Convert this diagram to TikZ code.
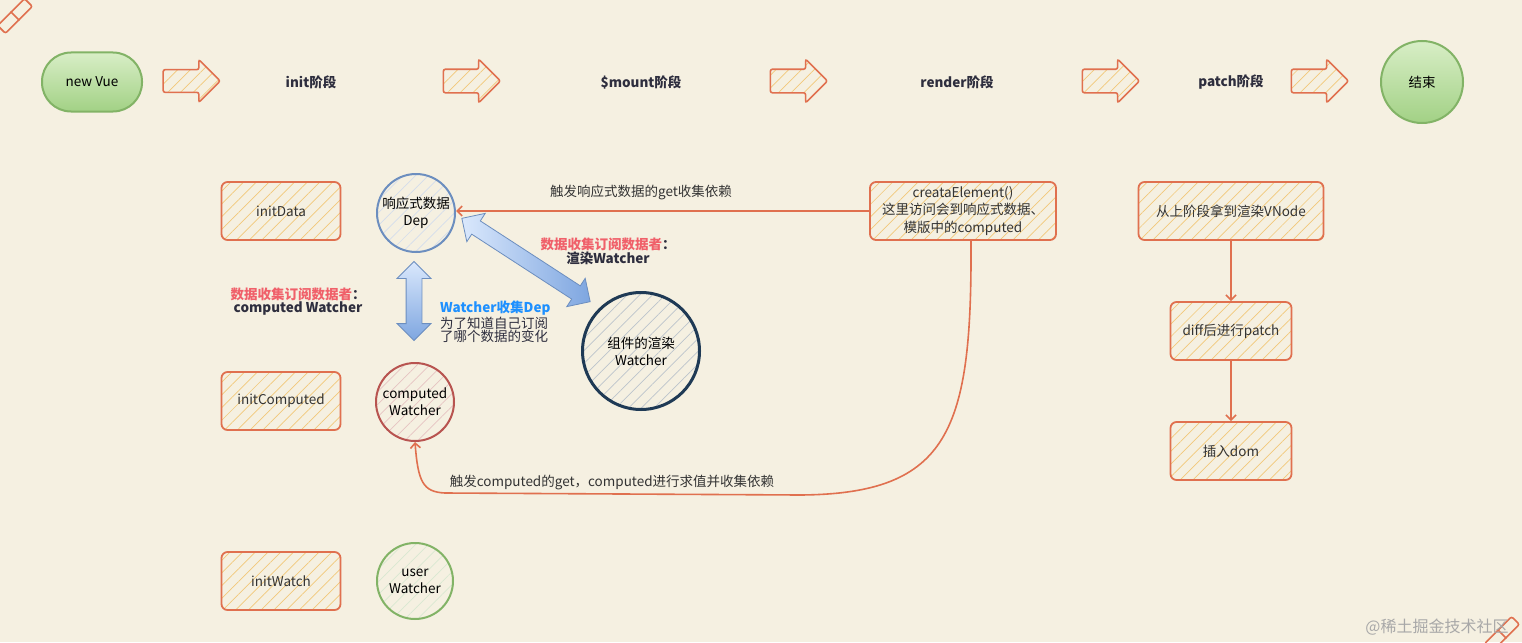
\documentclass[tikz,border=0pt]{standalone}
\usepackage{fontspec}
\setmainfont{Noto Sans CJK SC}
\usetikzlibrary{arrows.meta,shapes.arrows,patterns.meta,shadings}
\definecolor{bg}{HTML}{F5F0E1}
\definecolor{boxc}{HTML}{E0704F}
\definecolor{hatchY}{HTML}{F2C879}
\definecolor{txt}{HTML}{333333}
\definecolor{stagetxt}{HTML}{2E2E3E}
\definecolor{greenB}{HTML}{82B366}
\definecolor{greenT}{HTML}{D8EEC6}
\definecolor{greenD}{HTML}{A2D185}
\definecolor{blueB}{HTML}{6C8EBF}
\definecolor{navyB}{HTML}{1F3A55}
\definecolor{redB}{HTML}{B85450}
\definecolor{redL}{HTML}{F0606A}
\definecolor{blueL}{HTML}{1E90FF}
\definecolor{arrowLight}{HTML}{DAE8FC}
\definecolor{arrowDark}{HTML}{7EA6E0}
\definecolor{wm}{HTML}{A8A8A8}
\tikzset{
  tnode/.style={font=\fontsize{13.5}{17}\selectfont, text=txt, align=center},
  hatch/.style={pattern={Lines[angle=45,distance=9pt,line width=0.7pt]}},
  stagebox/.style={tnode, draw=boxc, line width=1.8pt, rounded corners=6pt,
    minimum width=119pt, minimum height=58pt, inner sep=2pt,
    preaction={fill=bg}, hatch, pattern color=hatchY},
  stagearrow/.style={single arrow, draw=boxc, line width=1.6pt,
    minimum height=57pt, inner xsep=0pt, inner ysep=11pt, single arrow head extend=10pt,
    rounded corners=2pt, preaction={fill=bg}, hatch, pattern color=hatchY},
  stagelabel/.style={font=\bfseries\fontsize{13.5}{17}\selectfont, text=stagetxt},
  greenterm/.style={tnode, text=black, draw=greenB, line width=2pt,
    top color=greenT, bottom color=greenD},
  watcher/.style={tnode, text=black, circle, line width=2pt, inner sep=0pt},
  dblarrow/.style={double arrow, draw=blueB, line width=0.8pt,
    minimum height=79pt, double arrow head extend=9pt},
  conn/.style={draw=boxc, line width=1.6pt, -{Straight Barb[length=5pt,width=10pt]}},
  note/.style={font=\fontsize{13.5}{17}\selectfont, text=txt, align=center},
  icon/.style={draw=boxc, line width=1.6pt, minimum width=38pt, minimum height=11pt,
    rounded corners=2pt, rotate=45, inner sep=0pt}
}
\begin{document}
\begin{tikzpicture}[x=1pt,y=-1pt]
\useasboundingbox (0,0) rectangle (1522,642);
\fill[bg] (0,0) rectangle (1522,642);

% decorative icons
\node[icon] (ic1) at (15,16) {};
\draw[boxc, line width=1.6pt] (ic1.north) -- (ic1.south);
\node[icon] (ic2) at (1502,634) {};
\draw[boxc, line width=1.6pt] (ic2.north) -- (ic2.south);

% top row
\node[greenterm, rounded corners=29pt, minimum width=100pt, minimum height=59pt] (nv) at (92,82) {new Vue};
\node[stagearrow] (a1) at (186,81) {};
\node[stagelabel] (s1) at (311,82) {init阶段};
\node[stagearrow] (a2) at (466,81) {};
\node[stagelabel] (s2) at (641,82) {\$mount阶段};
\node[stagearrow] (a3) at (793,81) {};
\node[stagelabel] (s3) at (957,82) {render阶段};
\node[stagearrow] (a4) at (1105,81) {};
\node[stagelabel] (s4) at (1231,82) {patch阶段};
\node[stagearrow] (a5) at (1314,81) {};
\node[greenterm, circle, minimum size=82pt, inner sep=0pt] (end) at (1422,82) {结束};

% init column
\node[stagebox] (idata) at (281,211) {initData};
\node[stagebox] (icomp) at (281,401) {initComputed};
\node[stagebox] (iwatch) at (281,581) {initWatch};

% watchers / dep
\node[watcher, draw=blueB, minimum size=78pt, preaction={fill=bg}, hatch, pattern color=blueB!30] (dep) at (416,213) {响应式数据\\Dep};
\node[watcher, draw=redB, minimum size=78pt, preaction={fill=bg}, hatch, pattern color=redB!35] (cw) at (415,402) {computed\\Watcher};
\node[watcher, draw=greenB, minimum size=76pt, preaction={fill=bg}, hatch, pattern color=greenB!30] (uw) at (415,581) {user\\Watcher};
\node[watcher, draw=navyB, line width=3pt, minimum size=117pt, preaction={fill=bg}, hatch, pattern color=navyB!30] (rw) at (641,351) {组件的渲染\\Watcher};

% double arrows
\node[dblarrow, shape border rotate=90, inner xsep=7.5pt, inner ysep=0pt, top color=arrowLight, bottom color=arrowDark] (dv) at (414,301) {};
\node[dblarrow, rotate=-33, inner xsep=0pt, inner ysep=7.5pt, minimum height=153pt, left color=arrowLight, right color=arrowDark] (dd) at (526,260) {};

% notes
\node[anchor=center, align=center] (n1) at (298,302)
  {\fontsize{13.5}{17}\selectfont\bfseries\textcolor{redL}{数据收集订阅数据者}\textcolor{stagetxt}{：}\\
   \fontsize{13.5}{17}\selectfont\bfseries\textcolor{stagetxt}{computed Watcher}};
\node[anchor=center, align=center] (n2) at (608,251)
  {\fontsize{13.5}{17}\selectfont\bfseries\textcolor{redL}{数据收集订阅数据者}\textcolor{stagetxt}{：}\\
   \fontsize{13.5}{17}\selectfont\bfseries\textcolor{stagetxt}{渲染Watcher}};
\node[anchor=west, align=left, inner sep=0pt] (n3) at (440,322)
  {\fontsize{13.5}{16}\selectfont\bfseries\textcolor{blueL}{Watcher收集Dep}\\
   \fontsize{13.5}{16}\selectfont\textcolor{stagetxt}{为了知道自己订阅}\\
   \fontsize{13.5}{16}\selectfont\textcolor{stagetxt}{了哪个数据的变化}};

% render column
\node[stagebox, minimum width=186pt, font=\fontsize{13.5}{17.5}\selectfont] (ce) at (963,211) {creataElement()\\这里访问会到响应式数据、\\模版中的computed};
\node[note] (l1) at (641,192) {触发响应式数据的get收集依赖};
\draw[conn] (ce.west) -- (dep.east |- ce.west);
\coordinate (c1) at (800,495);
\coordinate (c2) at (445,493);
\draw[conn] ([xshift=8pt]ce.south) .. controls (972,430) and (950,494) .. (c1) -- (c2) .. controls (423,492) and (418,482) .. (cw.south);
\node[note] (l2) at (612,482) {触发computed的get，computed进行求值并收集依赖};

% patch column
\node[stagebox, minimum width=185pt] (v1) at (1231,211) {从上阶段拿到渲染VNode};
\node[stagebox, minimum width=121pt] (v2) at (1231,331) {diff后进行patch};
\node[stagebox, minimum width=121pt] (v3) at (1231,451) {插入dom};
\draw[conn] (v1) -- (v2);
\draw[conn] (v2) -- (v3);

% watermark
\node[text=wm, font=\fontsize{16}{18}\selectfont] (wmk) at (1437,627) {@稀土掘金技术社区};
\end{tikzpicture}
\end{document}
